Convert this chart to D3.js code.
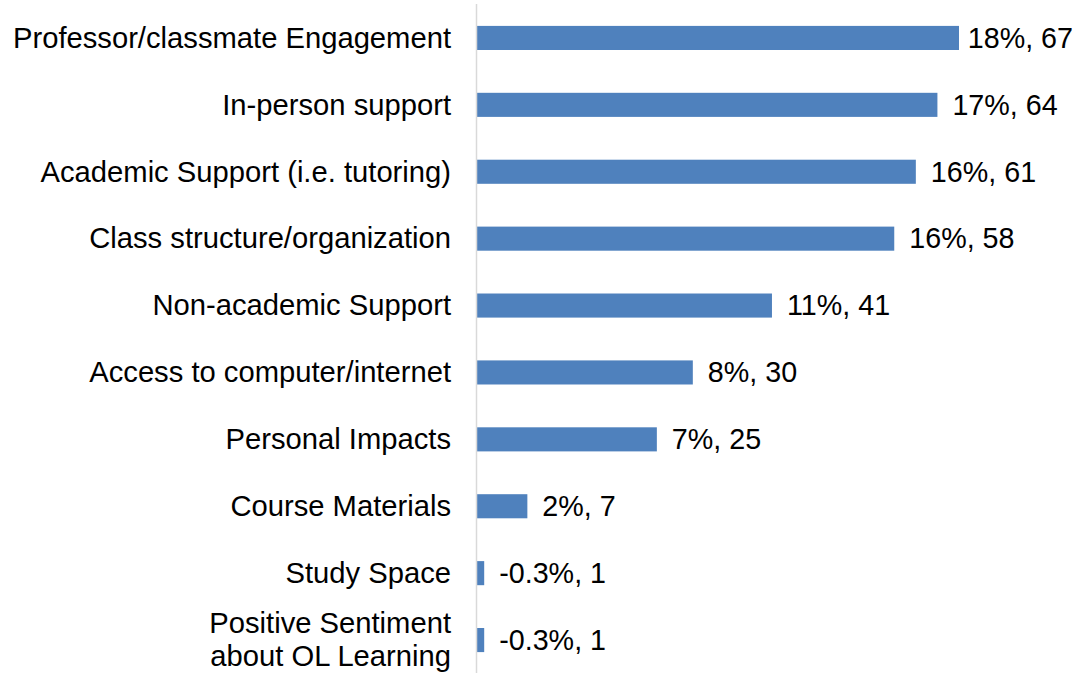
<!DOCTYPE html>
<html>
<head>
<meta charset="utf-8">
<script src="https://cdn.jsdelivr.net/npm/d3@7"></script>
<style>
  html, body { margin: 0; padding: 0; background: #fff; }
  svg { display: block; }
  text { font-family: "Liberation Sans", Arial, sans-serif; fill: #000; }
</style>
</head>
<body>
<svg id="chart" width="1075" height="673"></svg>
<script>
const categories = [
  ["Professor/classmate Engagement"],
  ["In-person support"],
  ["Academic Support (i.e. tutoring)"],
  ["Class structure/organization"],
  ["Non-academic Support"],
  ["Access to computer/internet"],
  ["Personal Impacts"],
  ["Course Materials"],
  ["Study Space"],
  ["Positive Sentiment", "about OL Learning"]
];
const counts = [67, 64, 61, 58, 41, 30, 25, 7, 1, 1];
const percents = ["18%", "17%", "16%", "16%", "11%", "8%", "7%", "2%", "-0.3%", "-0.3%"];

const W = 1075, H = 673;
const fontSize = 28.7;
const catFontSize = 29.2;
const svg = d3.select("#chart");

const x = d3.scaleLinear().domain([0, 67]).range([477, 959]);
const y = d3.scaleBand().domain(d3.range(categories.length))
  .range([4.5, 673.5]).paddingInner(0.64).paddingOuter(0.32);

// bars
svg.append("g").selectAll("rect").data(counts).join("rect")
  .attr("x", x(0))
  .attr("y", (d, i) => y(i))
  .attr("width", d => x(d) - x(0))
  .attr("height", y.bandwidth())
  .attr("fill", "#4f81bd");

// axis line
svg.append("line")
  .attr("x1", 476.5).attr("x2", 476.5)
  .attr("y1", 4).attr("y2", H)
  .attr("stroke", "#d9d9d9").attr("stroke-width", 1.5);

// category labels
const catG = svg.append("g");
categories.forEach((lines, i) => {
  const cy = y(i) + y.bandwidth() / 2;
  const lh = 33;
  const t = catG.append("text")
    .attr("text-anchor", "end")
    .attr("font-size", catFontSize);
  lines.forEach((ln, j) => {
    t.append("tspan")
      .attr("x", 451)
      .attr("y", cy + 9.8 + (j - (lines.length - 1) / 2) * lh)
      .text(ln);
  });
});

// value labels
const valG = svg.append("g");
counts.forEach((d, i) => {
  const cy = y(i) + y.bandwidth() / 2;
  const t = valG.append("text")
    .attr("font-size", fontSize)
    .attr("y", cy + 9.8)
    .text(percents[i] + ", " + d);
  const w = t.node().getComputedTextLength();
  const px = Math.min(x(d) + 15, W - 2 - w);
  t.attr("x", px);
});
</script>
</body>
</html>
